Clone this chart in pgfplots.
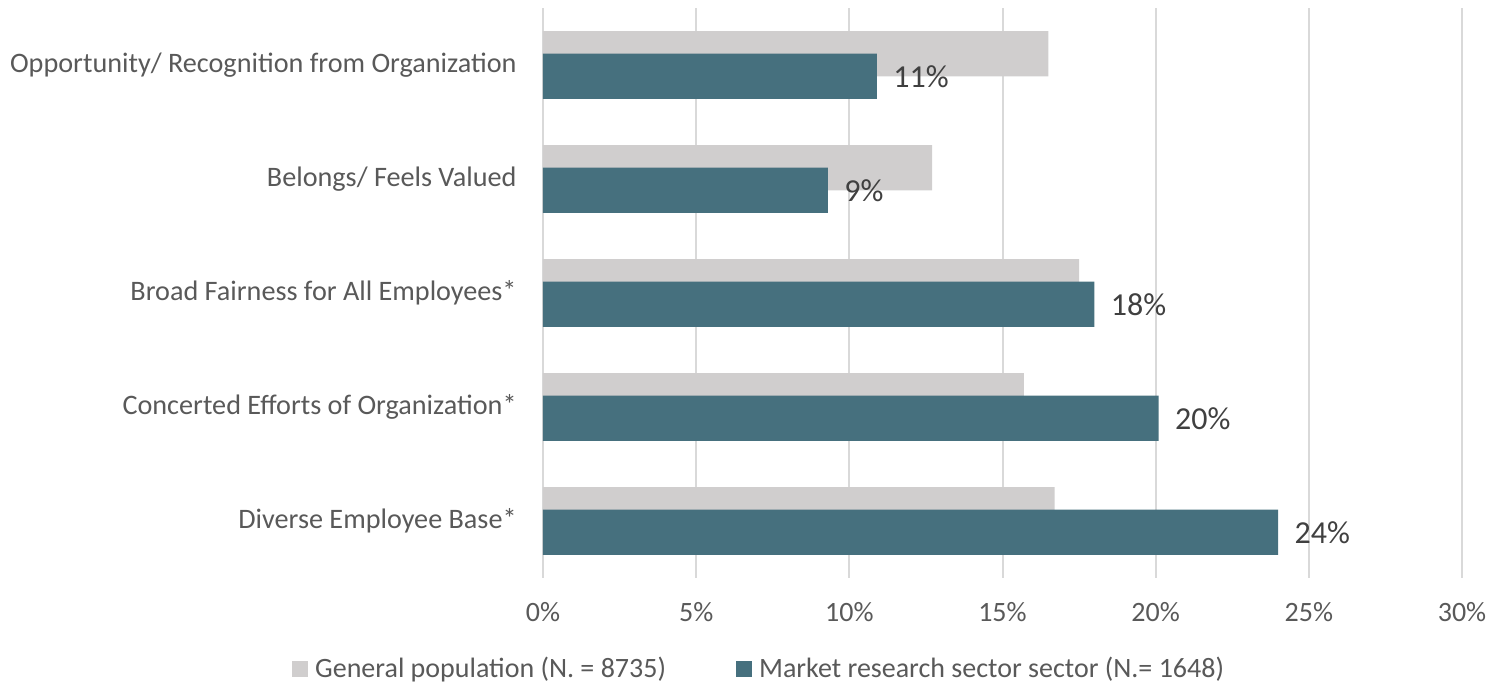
\documentclass[border=0pt]{standalone}
\usepackage{pgfplots}
\pgfplotsset{compat=1.18}
\usepackage{fontspec}
\setmainfont{Carlito}
\definecolor{grayb}{HTML}{D0CECE}
\definecolor{tealb}{HTML}{46707E}
\definecolor{textc}{HTML}{595959}
\definecolor{labelc}{HTML}{404040}
\definecolor{gridc}{HTML}{D9D9D9}
\begin{document}
\begin{tikzpicture}
\path[use as bounding box] (0,0) rectangle (744.5pt,-341.5pt);
\begin{axis}[
  at={(271.5pt,-289pt)}, anchor=south west,
  scale only axis, width=459.5pt, height=285pt,
  xbar, bar width=0.395,
  xmin=0, xmax=30, ymin=-0.5, ymax=4.5,
  xtick={0,5,...,30},
  xticklabel={\pgfmathprintnumber{\tick}\%},
  /pgf/number format/assume math mode=true,
  ytick={0,1,2,3,4},
  yticklabels={Diverse Employee Base*, Concerted Efforts of Organization*, Broad Fairness for All Employees*, Belongs/ Feels Valued, Opportunity/ Recognition from Organization},
  axis line style={draw=none},
  major tick length=0pt,
  xmajorgrids, major grid style={draw=gridc, line width=1pt},
  xticklabel style={font=\fontsize{14}{17}\selectfont, text=textc, anchor=center, yshift=-17pt},
  yticklabel style={font=\fontsize{14.1}{17}\selectfont, text=textc, anchor=east, inner sep=0pt, xshift=-13pt},
  legend style={at={(0.234,-0.160)}, anchor=center, draw=none, legend columns=2,
    font=\fontsize{14}{17}\selectfont, text=textc,
    /tikz/every odd column/.append style={column sep=3.5pt},
    /tikz/every even column/.append style={column sep=35pt},
    nodes={inner sep=0pt}},
  legend cell align=left,
]
\addplot[fill=grayb, draw=none, bar shift=0.0987,
  legend image code/.code={\fill[grayb] (0pt,-4pt) rectangle (8pt,4pt);}]
  coordinates {(16.7,0) (15.7,1) (17.5,2) (12.7,3) (16.5,4)};
\addlegendentry{General population (N. = 8735)}
\addplot[fill=tealb, draw=none, bar shift=-0.0987,
  nodes near coords={\pgfmathprintnumber[fixed,precision=0]{\pgfplotspointmeta}\%},
  every node near coord/.append style={anchor=west, xshift=8pt, inner sep=0pt,
    font=\fontsize{16}{19}\selectfont, text=labelc},
  legend image code/.code={\fill[tealb] (0pt,-4pt) rectangle (8pt,4pt);}]
  coordinates {(24.0,0) (20.1,1) (18.0,2) (9.3,3) (10.9,4)};
\addlegendentry{Market research sector sector (N.= 1648)}
\end{axis}
\end{tikzpicture}
\end{document}
